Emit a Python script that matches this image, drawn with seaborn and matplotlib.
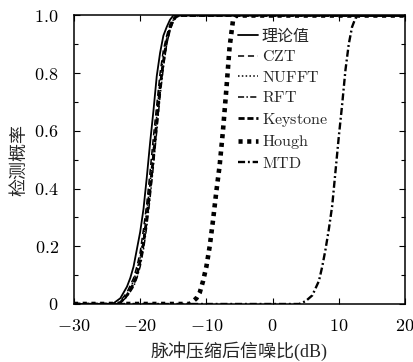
import matplotlib
matplotlib.use("Agg")
import matplotlib.pyplot as plt
import seaborn as sns
import numpy as np
from matplotlib.ticker import MultipleLocator

# ---- data ----
theory_x = [-30, -24.5, -24, -23, -22, -21.5, -21, -20.5, -20, -19.5, -19, -18.5, -18, -17.5, -17, -16.5, -16, -15.5, -15, 20]
theory_y = [0, 0, 0.003, 0.02, 0.06, 0.09, 0.13, 0.19, 0.25, 0.33, 0.44, 0.56, 0.67, 0.79, 0.87, 0.93, 0.96, 0.985, 1.0, 1.0]

czt_x = [-30, -23.5, -23, -22, -21, -20.5, -20, -19.5, -19, -18.5, -18, -17.5, -17, -16.5, -16, -15.5, -15, -14.5, 20]
czt_y = [0, 0, 0.01, 0.04, 0.09, 0.13, 0.18, 0.26, 0.35, 0.46, 0.58, 0.69, 0.80, 0.88, 0.93, 0.97, 0.99, 1.0, 1.0]

nufft_x = [-30, -23.5, -23, -22, -21, -20.5, -20, -19.5, -19, -18.5, -18, -17.5, -17, -16.5, -16, -15.5, -15, -14.5, 20]
nufft_y = [0, 0, 0.005, 0.03, 0.08, 0.12, 0.16, 0.23, 0.32, 0.42, 0.54, 0.65, 0.77, 0.86, 0.92, 0.96, 0.985, 1.0, 1.0]

rft_x = [-30, -23.5, -23, -22, -21, -20.5, -20, -19.5, -19, -18.5, -18, -17.5, -17, -16.5, -16, -15.5, -15, -14.5, -14, 20]
rft_y = [0, 0, 0.004, 0.025, 0.06, 0.09, 0.13, 0.19, 0.27, 0.37, 0.48, 0.60, 0.72, 0.82, 0.90, 0.95, 0.98, 0.995, 1.0, 1.0]

keystone_x = [-30, -23.5, -23, -22, -21, -20.5, -20, -19.5, -19, -18.5, -18, -17.5, -17, -16.5, -16, -15.5, -15, -14.5, -14, 20]
keystone_y = [0, 0, 0.005, 0.03, 0.07, 0.10, 0.15, 0.21, 0.30, 0.40, 0.51, 0.63, 0.75, 0.84, 0.91, 0.955, 0.985, 0.997, 1.0, 1.0]

hough_x = [-30, -12.5, -12, -11.5, -11, -10.5, -10, -9.5, -9, -8.5, -8, -7.5, -7, -6.5, -6, -5.5, 20]
hough_y = [0, 0, 0.01, 0.02, 0.04, 0.08, 0.13, 0.20, 0.29, 0.39, 0.48, 0.60, 0.74, 0.89, 0.98, 1.0, 1.0]

mtd_x = [-30, 4, 5, 6, 7, 7.5, 8, 8.5, 9, 9.5, 10, 10.5, 11, 11.5, 12, 12.5, 13, 20]
mtd_y = [0, 0, 0.01, 0.03, 0.08, 0.13, 0.19, 0.26, 0.34, 0.46, 0.58, 0.69, 0.81, 0.90, 0.96, 0.99, 1.0, 1.0]

labels = ["理论值", r"$\mathrm{CZT}$", r"$\mathrm{NUFFT}$", r"$\mathrm{RFT}$",
          r"$\mathrm{Keystone}$", r"$\mathrm{Hough}$", r"$\mathrm{MTD}$"]
x_ticks = [-30, -20, -10, 0, 10, 20]
x_ticklabels = [r"$-30$", r"$-20$", r"$-10$", r"$0$", r"$10$", r"$20$"]
y_ticks = [0, 0.2, 0.4, 0.6, 0.8, 1.0]
y_ticklabels = [r"$0$", r"$0.2$", r"$0.4$", r"$0.6$", r"$0.8$", r"$1.0$"]

# ---- style ----
sns.set_style("ticks")
plt.rcParams["font.family"] = ["Liberation Serif", "Noto Sans CJK SC"]
plt.rcParams["mathtext.fontset"] = "cm"
plt.rcParams["axes.unicode_minus"] = True

fig = plt.figure(figsize=(4.14, 3.62), dpi=100)
ax = fig.add_axes([74 / 414, 1 - 304 / 362, 331 / 414, 288.5 / 362])

series = [
    (theory_x, theory_y, dict(lw=1.3, linestyle="-")),
    (czt_x, czt_y, dict(lw=1.1, linestyle=(0, (4, 2.5)))),
    (nufft_x, nufft_y, dict(lw=1.1, linestyle=(0, (1, 1.5)))),
    (rft_x, rft_y, dict(lw=1.1, linestyle=(0, (4, 1.5, 1, 1.5)))),
    (keystone_x, keystone_y, dict(lw=2.0, linestyle=(0, (2.2, 1.0)))),
    (hough_x, hough_y, dict(lw=3.3, linestyle=(0, (0.9, 1.0)))),
    (mtd_x, mtd_y, dict(lw=1.7, linestyle=(0, (3, 1.2, 0.8, 1.2)))),
]

for (xs, ys, kw), lab in zip(series, labels):
    sns.lineplot(x=xs, y=ys, ax=ax, color="black", label=lab, sort=False,
                 estimator=None, **kw)

ax.set_xlim(-30, 20)
ax.set_ylim(0, 1.0)
ax.set_xticks(x_ticks)
ax.set_xticklabels(x_ticklabels)
ax.set_yticks(y_ticks)
ax.set_yticklabels(y_ticklabels)
ax.yaxis.set_minor_locator(MultipleLocator(0.1))
ax.tick_params(which="both", direction="in", top=True, right=True,
               labelsize=13, length=4, width=0.8, colors="black")
ax.tick_params(axis="x", pad=10)
ax.tick_params(axis="y", pad=11)
ax.tick_params(which="minor", length=3)
for sp in ax.spines.values():
    sp.set_linewidth(1.1)
    sp.set_color("black")

ax.set_xlabel("脉冲压缩后信噪比(dB)", fontsize=13, labelpad=5)
ax.set_ylabel("检测概率", fontsize=13, labelpad=4)

leg = ax.legend(loc="upper left", bbox_to_anchor=(0.485, 0.965), frameon=False,
                fontsize=11.5, handlelength=1.3, handletextpad=0.2,
                labelspacing=0.28, borderaxespad=0, borderpad=0.2)

fig.savefig("out.png", dpi=100)
